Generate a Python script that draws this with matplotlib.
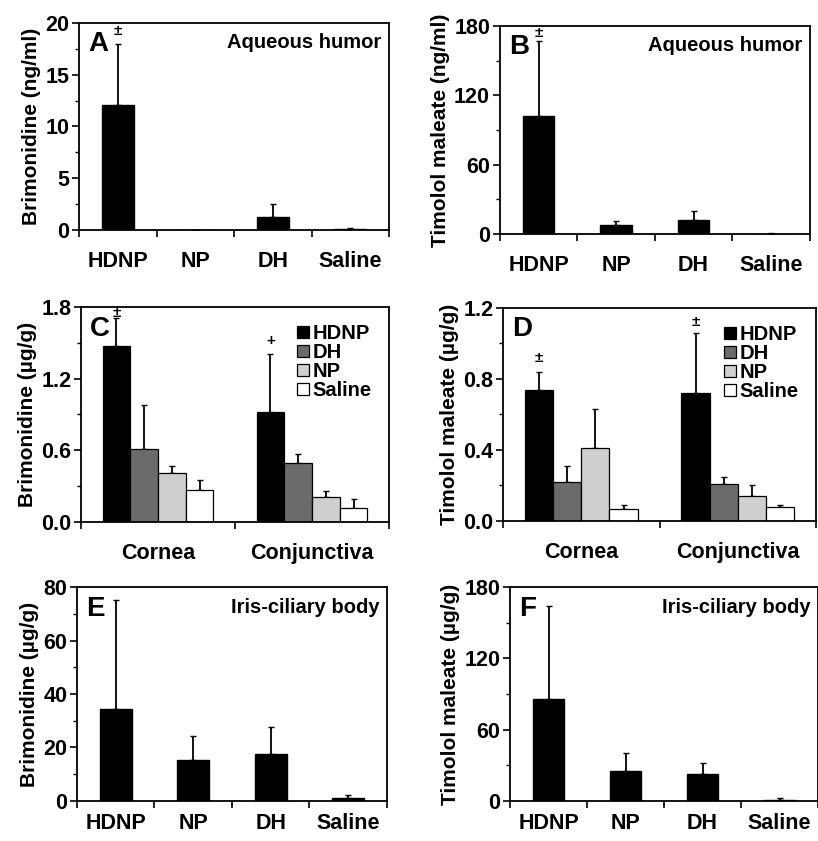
import matplotlib
matplotlib.use("Agg")
import matplotlib.pyplot as plt
import numpy as np

plt.rcParams['font.family'] = ['Liberation Sans', 'DejaVu Sans']
plt.rcParams['font.weight'] = 'bold'

# ---------------- data ----------------
groups4 = ["HDNP", "NP", "DH", "Saline"]

A_vals = [12.1, 0.0, 1.3, 0.05]
A_err = [5.9, 0.0, 1.2, 0.15]

B_vals = [102, 8, 12, 0.3]
B_err = [65, 3, 8, 0.7]

tissues = ["Cornea", "Conjunctiva"]
series = ["HDNP", "DH", "NP", "Saline"]
series_colors = ["#000000", "#6b6b6b", "#cfcfcf", "#ffffff"]

C_vals = {"HDNP": [1.47, 0.92], "DH": [0.61, 0.49], "NP": [0.41, 0.21], "Saline": [0.27, 0.12]}
C_err = {"HDNP": [0.24, 0.49], "DH": [0.37, 0.08], "NP": [0.06, 0.05], "Saline": [0.08, 0.07]}

D_vals = {"HDNP": [0.74, 0.72], "DH": [0.22, 0.21], "NP": [0.41, 0.14], "Saline": [0.07, 0.08]}
D_err = {"HDNP": [0.10, 0.34], "DH": [0.09, 0.04], "NP": [0.22, 0.06], "Saline": [0.02, 0.01]}

E_vals = [34.5, 15.3, 17.7, 1.0]
E_err = [40.5, 9.0, 10.1, 1.2]

F_vals = [86, 25, 23, 1.2]
F_err = [78, 15, 9, 1.3]

FS_Y = 15.5
FS_YL = 15
FS_X = 15.5
FS_T = 14.5
FS_L = 14.5

fig = plt.figure(figsize=(8.18, 8.41), dpi=100)


def style_axis(ax, ymax, major, ncat, ylabel, xpad):
    ax.set_xlim(-0.5, ncat - 0.5)
    ax.set_ylim(0, ymax)
    ax.set_yticks(np.arange(0, ymax + major / 2, major))
    ax.set_yticks(np.arange(major / 2, ymax, major), minor=True)
    ax.tick_params(axis='y', which='major', direction='out', length=5, width=1.2, labelsize=FS_Y, pad=2)
    ax.tick_params(axis='y', which='minor', direction='out', length=3, width=1.0)
    ax.set_xticks(np.arange(-0.5, ncat, 1.0))
    ax.set_xticks(np.arange(0, ncat, 1.0), minor=True)
    ax.tick_params(axis='x', which='major', direction='out', length=5, width=1.2, labelbottom=False)
    ax.tick_params(axis='x', which='minor', length=0, labelsize=FS_X, pad=xpad)
    for s in ax.spines.values():
        s.set_linewidth(1.3)
    ax.set_ylabel(ylabel, fontsize=FS_YL, fontweight='bold', labelpad=3)
    for lab in ax.get_yticklabels():
        lab.set_fontweight('bold')


def simple_panel(rect, vals, errs, ymax, major, ylabel, letter, title, xpad):
    ax = fig.add_axes(rect)
    x = np.arange(len(groups4))
    ax.bar(x, vals, width=0.41, color='black', edgecolor='black', zorder=2)
    ax.errorbar(x, vals, yerr=[np.zeros(len(errs)), errs], fmt='none', ecolor='black',
                elinewidth=1.3, capsize=2, capthick=1.0, zorder=1)
    style_axis(ax, ymax, major, len(groups4), ylabel, xpad)
    ax.set_xticklabels(groups4, minor=True, fontweight='bold')
    ax.text(0.03, 0.96, letter, transform=ax.transAxes, fontsize=20, fontweight='bold', va='top', ha='left')
    if title:
        ax.text(0.975, 0.95, title, transform=ax.transAxes, fontsize=FS_T, fontweight='bold', va='top', ha='right')
    return ax


def group_panel(rect, vals, errs, ymax, major, ylabel, letter, xpad):
    ax = fig.add_axes(rect)
    x = np.arange(len(tissues))
    w = 0.18
    for i, s in enumerate(series):
        xi = x + (i - 1.5) * w
        ax.bar(xi, vals[s], width=w, color=series_colors[i], edgecolor='black', linewidth=0.9,
               label=s, zorder=2)
        ax.errorbar(xi, vals[s], yerr=[np.zeros(2), errs[s]], fmt='none', ecolor='black',
                    elinewidth=1.3, capsize=2, capthick=1.0, zorder=1)
    style_axis(ax, ymax, major, len(tissues), ylabel, xpad)
    ax.set_xticklabels(tissues, minor=True, fontweight='bold')
    ax.text(0.03, 0.96, letter, transform=ax.transAxes, fontsize=20, fontweight='bold', va='top', ha='left')
    leg = ax.legend(loc='upper right', bbox_to_anchor=(1.0, 1.0), frameon=False, fontsize=FS_L,
                    handlelength=0.6, handleheight=0.6, handletextpad=0.2, labelspacing=0.0,
                    borderaxespad=0.45)
    for t in leg.get_texts():
        t.set_fontweight('bold')
    return ax, x, w


# A
axA = simple_panel([0.0966, 0.7265, 0.379, 0.2462], A_vals, A_err, 20, 5,
                   "Brimonidine (ng/ml)", "A", "Aqueous humor", 15)
axA.text(0, A_vals[0] + A_err[0] + 0.5, "±", ha='center', va='bottom', fontsize=11, fontweight='bold')

# B
axB = simple_panel([0.611, 0.7218, 0.379, 0.2472], B_vals, B_err, 180, 60,
                   "Timolol maleate (ng/ml)", "B", "Aqueous humor", 15)
axB.text(0, B_vals[0] + B_err[0] + 1, "±", ha='center', va='bottom', fontsize=11, fontweight='bold')

# C
axC, xc, wc = group_panel([0.099, 0.3793, 0.3766, 0.2557], C_vals, C_err, 1.8, 0.6,
                          "Brimonidine (µg/g)", "C", 15)
axC.text(xc[0] - 1.5 * wc, 1.69, "±", ha='center', va='bottom', fontsize=11, fontweight='bold')
axC.text(xc[1] - 1.5 * wc, 1.46, "+", ha='center', va='bottom', fontsize=11, fontweight='bold')

# D
axD, xd, wd = group_panel([0.615, 0.3805, 0.3826, 0.2533], D_vals, D_err, 1.2, 0.4,
                          "Timolol maleate (µg/g)", "D", 15)
axD.text(xd[0] - 1.5 * wd, 0.88, "±", ha='center', va='bottom', fontsize=11, fontweight='bold')
axD.text(xd[1] - 1.5 * wd, 1.08, "±", ha='center', va='bottom', fontsize=11, fontweight='bold')

# E
simple_panel([0.094, 0.0476, 0.379, 0.2544], E_vals, E_err, 80, 20,
             "Brimonidine (µg/g)", "E", "Iris-ciliary body", 9)

# F
simple_panel([0.6235, 0.0476, 0.3765, 0.2544], F_vals, F_err, 180, 60,
             "Timolol maleate (µg/g)", "F", "Iris-ciliary body", 9)

fig.savefig("out.png", dpi=100)
